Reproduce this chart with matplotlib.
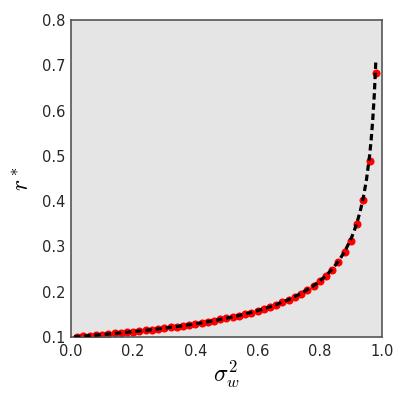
import matplotlib
matplotlib.use("Agg")
import matplotlib.pyplot as plt

plt.rcParams['mathtext.fontset'] = 'cm'

# measured points (red dots)
sigma2_pts = [0.02, 0.04, 0.06, 0.08, 0.10, 0.12, 0.14, 0.16, 0.18, 0.20,
              0.22, 0.24, 0.26, 0.28, 0.30, 0.32, 0.34, 0.36, 0.38, 0.40,
              0.42, 0.44, 0.46, 0.48, 0.50, 0.52, 0.54, 0.56, 0.58, 0.60,
              0.62, 0.64, 0.66, 0.68, 0.70, 0.72, 0.74, 0.76, 0.78, 0.80,
              0.82, 0.84, 0.86, 0.88, 0.90, 0.92, 0.94, 0.96, 0.98]
r_pts = [0.101, 0.102, 0.103, 0.104, 0.105, 0.107, 0.108, 0.109, 0.110, 0.112,
         0.113, 0.115, 0.116, 0.118, 0.120, 0.121, 0.123, 0.125, 0.127, 0.129,
         0.131, 0.134, 0.136, 0.139, 0.141, 0.144, 0.147, 0.151, 0.154, 0.158,
         0.162, 0.167, 0.171, 0.177, 0.182, 0.189, 0.196, 0.204, 0.213, 0.223,
         0.235, 0.249, 0.265, 0.287, 0.313, 0.349, 0.402, 0.488, 0.683]

# dashed reference curve
sigma2_line = [0.01, 0.02, 0.06, 0.10, 0.14, 0.18, 0.22, 0.26, 0.30, 0.34,
               0.38, 0.42, 0.46, 0.50, 0.54, 0.58, 0.62, 0.66, 0.70, 0.74,
               0.78, 0.80, 0.82, 0.84, 0.86, 0.88, 0.90, 0.91, 0.92, 0.93,
               0.94, 0.95, 0.96, 0.965, 0.97, 0.975, 0.98]
r_line = [0.1005, 0.1010, 0.1031, 0.1054, 0.1078, 0.1104, 0.1132, 0.1162, 0.1195, 0.1231,
          0.1270, 0.1313, 0.1361, 0.1414, 0.1474, 0.1543, 0.1622, 0.1715, 0.1826, 0.1961,
          0.2132, 0.2236, 0.2357, 0.2500, 0.2673, 0.2887, 0.3162, 0.3333, 0.3536, 0.3780,
          0.4082, 0.4472, 0.5000, 0.5345, 0.5774, 0.6325, 0.7071]

fig = plt.figure(figsize=(4.07, 4.07), dpi=100)
ax = fig.add_axes([0.1744, 0.172, 0.7642, 0.779])
ax.set_facecolor("#e5e5e5")

ax.plot(sigma2_pts, r_pts, 'o', color='red', markersize=5.8, markeredgewidth=0, zorder=2)
ax.plot(sigma2_line, r_line, color='black', lw=2.3, dashes=(2, 1.2), zorder=3)

ax.set_xlim(0.0, 1.0)
ax.set_ylim(0.1, 0.8)
ax.set_xticks([0.0, 0.2, 0.4, 0.6, 0.8, 1.0])
ax.set_yticks([0.1, 0.2, 0.3, 0.4, 0.5, 0.6, 0.7, 0.8])
ax.tick_params(length=0, labelsize=10.5, labelcolor="#262626")
ax.tick_params(axis='x', pad=5)
ax.tick_params(axis='y', pad=4)
for s in ax.spines.values():
    s.set_color("#555555")
    s.set_linewidth(1.2)

ax.set_xlabel(r"$\sigma_w^2$", fontsize=17, labelpad=0)
ax.set_ylabel(r"$r^*$", fontsize=17, labelpad=6)

fig.savefig("out.png", dpi=100)
